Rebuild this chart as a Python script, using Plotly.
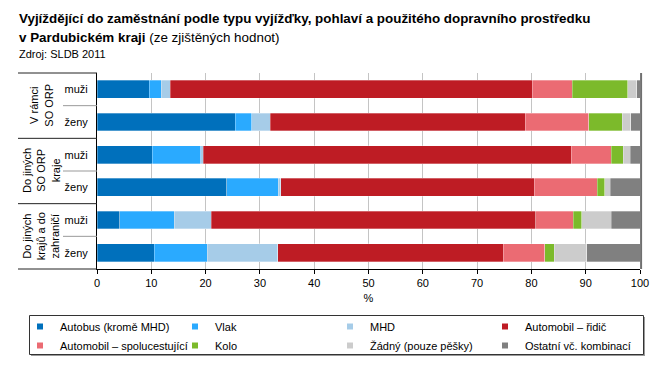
import plotly.graph_objects as go

categories = ["V rámci SO ORP – muži", "V rámci SO ORP – ženy",
              "Do jiných SO ORP kraje – muži", "Do jiných SO ORP kraje – ženy",
              "Do jiných krajů a do zahraničí – muži", "Do jiných krajů a do zahraničí – ženy"]
tick_labels = ["muži", "ženy", "muži", "ženy", "muži", "ženy"]
group_labels = ["V rámci<br>SO ORP", "Do jiných<br>SO ORP<br>kraje", "Do jiných<br>krajů a do<br>zahraničí"]

series_names = ["Autobus (kromě MHD)", "Vlak", "MHD", "Automobil – řidič",
                "Automobil – spolucestující", "Kolo", "Žádný (pouze pěšky)", "Ostatní vč. kombinací"]

autobus = [9.6, 25.5, 10.2, 23.9, 4.2, 10.5]
vlak = [2.2, 3.0, 8.9, 9.5, 10.0, 9.8]
mhd = [1.7, 3.4, 0.5, 0.4, 6.8, 13.0]
ridic = [66.7, 47.0, 67.7, 46.7, 59.8, 41.5]
spolucestujici = [7.3, 11.7, 7.4, 11.6, 6.9, 7.7]
kolo = [10.2, 6.1, 2.2, 1.4, 1.6, 1.7]
zadny = [1.7, 1.6, 1.3, 1.0, 5.4, 6.0]
ostatni = [0.6, 1.7, 1.8, 5.5, 5.3, 9.8]

series_values = [autobus, vlak, mhd, ridic, spolucestujici, kolo, zadny, ostatni]
colors = ["#0070BC", "#2AAAFF", "#A6CCE8", "#BE1C24", "#EB6B73", "#7CBA2B", "#CCCCCC", "#808080"]

FONT = "Liberation Sans"
fig = go.Figure()
for name, vals, col in zip(series_names, series_values, colors):
    fig.add_trace(go.Bar(
        y=categories, x=vals, name=name, orientation="h",
        marker=dict(color=col, line=dict(color="rgba(255,255,255,0.5)", width=0.6)),
        showlegend=False,
    ))
for name, col in zip(series_names, colors):
    fig.add_trace(go.Scatter(
        x=[None], y=[None], mode="markers", name=name,
        marker=dict(symbol="square", size=6, color=col),
        showlegend=True,
    ))

W, H = 660, 369
L, R, T, B = 97, 20, 73, 100
pw = W - L - R
ph = H - T - B

def px2x(px):
    return (px - L) / pw

def py2y(py):
    return (H - B - py) / ph

shapes = []
for yv in [1, 4 / 6, 2 / 6, 0]:
    shapes.append(dict(type="line", xref="paper", yref="paper",
                       x0=px2x(18), x1=0, y0=yv, y1=yv,
                       line=dict(color="#222222", width=1)))
for yv in [5 / 6, 3 / 6, 1 / 6]:
    shapes.append(dict(type="line", xref="paper", yref="paper",
                       x0=px2x(63), x1=0, y0=yv, y1=yv,
                       line=dict(color="#999999", width=1)))
shapes.append(dict(type="line", xref="paper", yref="paper",
                   x0=1.002, x1=1.002, y0=0, y1=1,
                   line=dict(color="#707070", width=2)))
# legend frame with light shadow
shapes.append(dict(type="rect", xref="paper", yref="paper",
                   x0=px2x(31), x1=px2x(645), y0=py2y(317), y1=py2y(356),
                   line=dict(width=0), fillcolor="#9A9A9A", layer="above"))
shapes.append(dict(type="rect", xref="paper", yref="paper",
                   x0=px2x(29.5), x1=px2x(643.5), y0=py2y(315.5), y1=py2y(354.5),
                   line=dict(color="#333333", width=1), fillcolor="white", layer="above"))

annotations = []
for i, g in enumerate(group_labels):
    annotations.append(dict(xref="paper", yref="paper", x=px2x(41), y=1 - (2 * i + 1) / 6,
                            text=g, textangle=-90, showarrow=False,
                            font=dict(family=FONT, size=11, color="#000"),
                            xanchor="center", yanchor="middle"))
annotations.append(dict(xref="paper", yref="paper", x=px2x(17), y=py2y(18),
                        text="<b>Vyjíždějící do zaměstnání podle typu vyjížďky, pohlaví a použitého dopravního prostředku</b>",
                        showarrow=False, xanchor="left", yanchor="middle",
                        font=dict(family=FONT, size=13.4, color="#000")))
annotations.append(dict(xref="paper", yref="paper", x=px2x(17), y=py2y(37),
                        text="<b>v Pardubickém kraji</b> (ze zjištěných hodnot)",
                        showarrow=False, xanchor="left", yanchor="middle",
                        font=dict(family=FONT, size=13.4, color="#000")))
annotations.append(dict(xref="paper", yref="paper", x=px2x(17), y=py2y(54),
                        text="Zdroj: SLDB 2011",
                        showarrow=False, xanchor="left", yanchor="middle",
                        font=dict(family=FONT, size=11, color="#000")))

fig.update_layout(
    width=W, height=H,
    margin=dict(l=L, r=R, t=T, b=B, autoexpand=False),
    barmode="stack", bargap=0.45,
    plot_bgcolor="white", paper_bgcolor="white",
    font=dict(family=FONT, size=11, color="#000"),
    shapes=shapes, annotations=annotations,
    xaxis=dict(range=[0, 100], dtick=10, showgrid=True, gridcolor="#C4C4C4", gridwidth=1,
               showline=True, linecolor="#000", linewidth=1, ticks="outside", ticklen=4,
               tickcolor="#000", tickfont=dict(size=11), zeroline=False,
               title=dict(text="%", font=dict(size=11), standoff=6)),
    yaxis=dict(categoryorder="array", categoryarray=categories, autorange="reversed",
               tickvals=categories, ticktext=tick_labels, showline=True, linecolor="#000",
               linewidth=1, ticks="", showgrid=False, tickfont=dict(size=11),
               ticklabelstandoff=6),
    legend=dict(orientation="h", x=px2x(30), xanchor="left", y=py2y(312), yanchor="top",
                borderwidth=0, entrywidth=120, entrywidthmode="pixels",
                font=dict(size=11), itemwidth=30, indentation=-10, tracegroupgap=0,
                traceorder="normal", bgcolor="rgba(0,0,0,0)"),
)

fig.write_html("out.html", config={"displayModeBar": False},
               post_script="document.body.style.margin='0';document.body.style.padding='0';")
